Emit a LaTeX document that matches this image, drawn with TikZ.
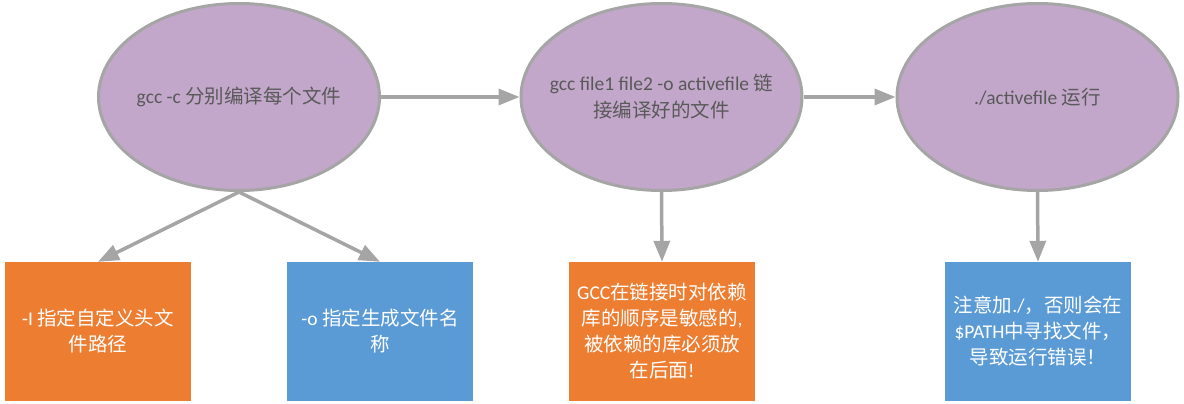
\documentclass[tikz,border=0pt]{standalone}
\usepackage{fontspec}
\setmainfont{Carlito}
\newfontfamily\cjk{Noto Sans CJK SC}
\usetikzlibrary{shapes.geometric,arrows.meta}
\definecolor{ellfill}{HTML}{C3A7CB}
\definecolor{edgegray}{HTML}{A5A5A5}
\definecolor{orng}{HTML}{ED7D31}
\definecolor{blu}{HTML}{5B9BD5}
\definecolor{txtgray}{HTML}{595959}
\begin{document}
\begin{tikzpicture}[x=1pt,y=-1pt,
  ell/.style={ellipse, draw=edgegray, line width=3pt, fill=ellfill,
    minimum width=281pt, minimum height=187pt, inner sep=0pt},
  elltext/.style={inner sep=0pt, text=txtgray, align=center,
    font=\fontsize{19.5}{27}\selectfont},
  boxo/.style={rectangle, fill=orng, minimum width=186pt, minimum height=139pt,
    inner sep=0pt, text=white, align=center, font=\fontsize{19.5}{26}\selectfont},
  boxb/.style={boxo, fill=blu},
  conn/.style={draw=edgegray, line width=3.5pt, -{Triangle[length=21pt,width=16pt]}}]
\useasboundingbox (0,0) rectangle (1184,404);

\node[ell] (e1) at (239,97) {};
\node[ell] (e2) at (661.5,97) {};
\node[ell] (e3) at (1037.5,97) {};
\node[elltext] (t1) at (e1.center) {gcc -c {\cjk 分别编译每个文件}};
\node[elltext] (t2) at (e2.center) {gcc file1 file2 -o activefile {\cjk 链}\\{\cjk 接编译好的文件}};
\node[elltext] (t3) at (e3.center) {./activefile {\cjk 运行}};

\node[boxo] (b1) at (98,331.5) {-I {\cjk 指定自定义头文}\\{\cjk 件路径}};
\node[boxb] (b2) at (380,331.5) {-o {\cjk 指定生成文件名}\\{\cjk 称}};
\node[boxo] (b3) at (662,331.5) {GCC{\cjk 在链接时对依赖}\\{\cjk 库的顺序是敏感的},\\{\cjk 被依赖的库必须放}\\{\cjk 在后面}!};
\node[boxb] (b4) at (1038,331.5) {{\cjk 注意加}./{\cjk ，否则会在}\\\$PATH{\cjk 中寻找文件，}\\{\cjk 导致运行错误！}};

\draw[conn] (e1.east) -- (e2.west);
\draw[conn] (e2.east) -- (e3.west);
\draw[conn] (e1.south) -- (b1.north);
\draw[conn] (e1.south) -- (b2.north);
\draw[conn] (e2.south) -- (b3.north);
\draw[conn] (e3.south) -- (b4.north);
\end{tikzpicture}
\end{document}
